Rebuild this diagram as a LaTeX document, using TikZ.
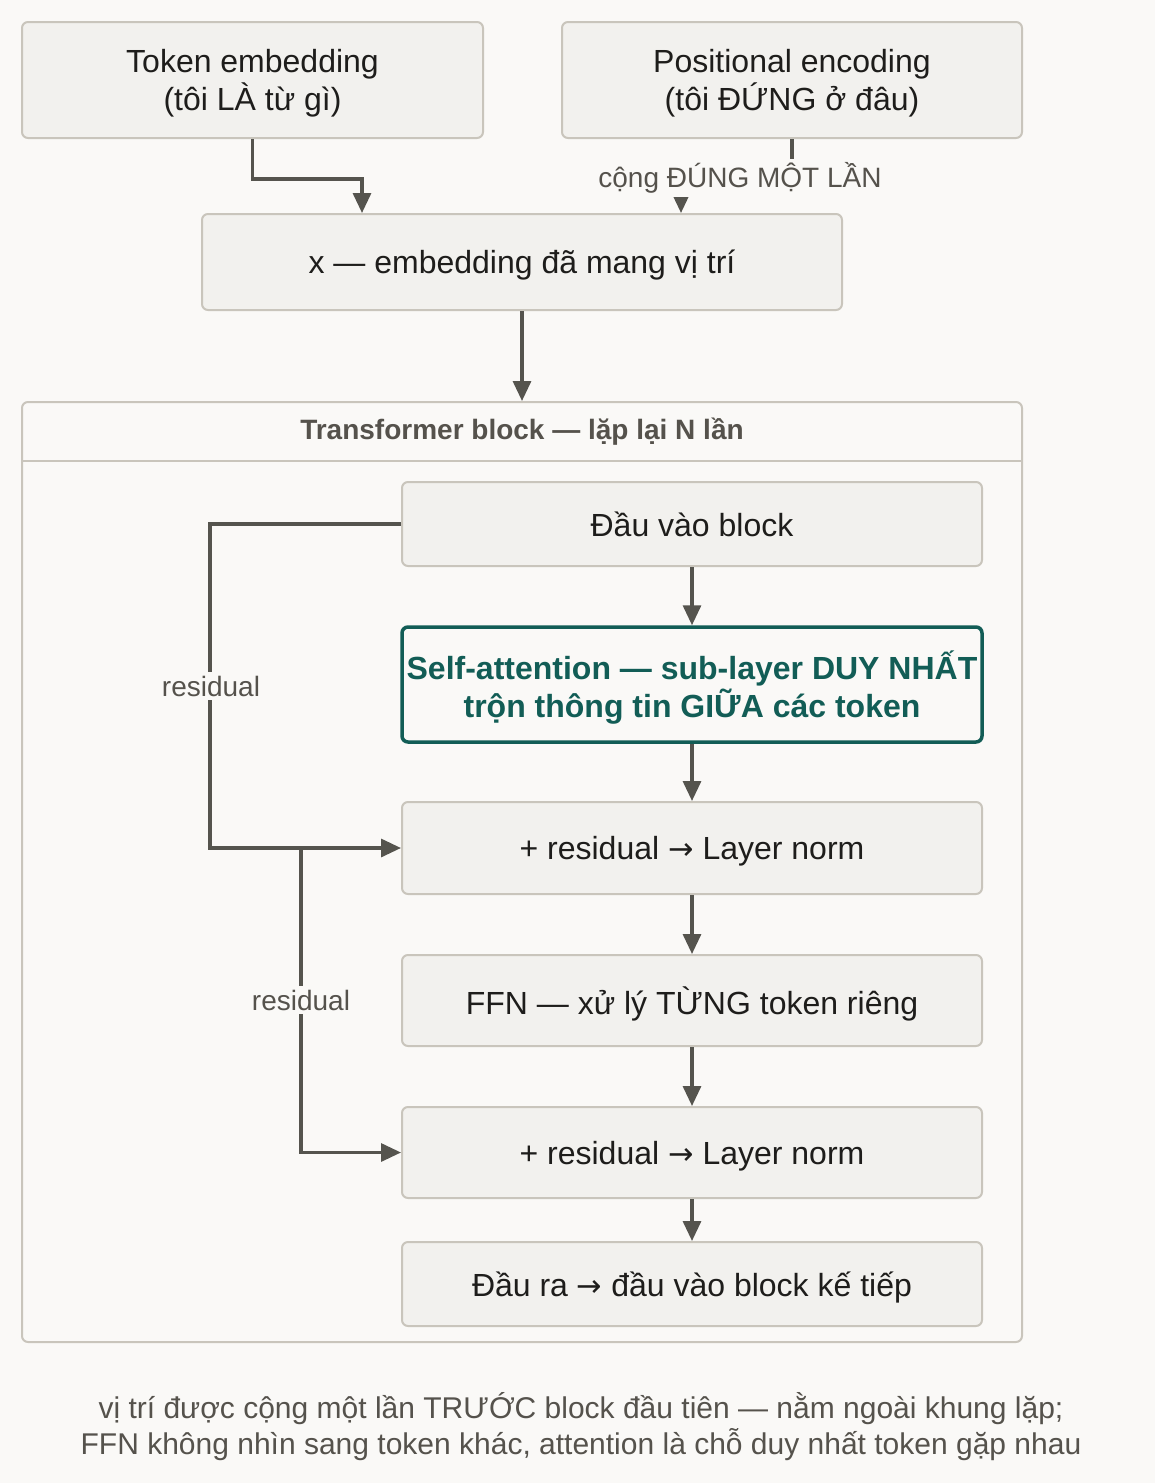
\documentclass[tikz,border=0pt]{standalone}
\usepackage{fontspec}
\setmainfont{Liberation Sans}
\newfontfamily\arrowfont{DejaVu Sans}
\usetikzlibrary{calc,arrows.meta}
\definecolor{pageBg}{RGB}{250,249,247}
\definecolor{boxFill}{RGB}{242,241,238}
\definecolor{boxLine}{RGB}{201,197,188}
\definecolor{wireGray}{RGB}{85,84,78}
\definecolor{inkDark}{RGB}{30,29,27}
\definecolor{noteGray}{RGB}{85,82,76}
\definecolor{attnTeal}{RGB}{18,93,86}
\newcommand{\ToArrow}{{\arrowfont\scalebox{0.95}{→}}}
\tikzset{
  stepbox/.style={rounded corners=3pt,draw=boxLine,fill=boxFill,line width=1pt,text depth=0pt,
                  text=inkDark,font=\fontsize{16}{19}\selectfont,align=center,inner sep=2pt},
  attnbox/.style={stepbox,draw=attnTeal,fill=pageBg,line width=1.75pt,text=attnTeal,
                  font=\bfseries\fontsize{16}{19}\selectfont},
  conn/.style={draw=wireGray,line width=1.6pt,-{Triangle[length=10pt,width=9pt]}},
  note/.style={fill=pageBg,text=noteGray,font=\fontsize{14}{18}\selectfont,inner sep=2pt}
}

\begin{document}
\begin{tikzpicture}[x=0.5pt,y=-0.5pt]
\fill[pageBg] (0,0) rectangle (1155,1483);
\useasboundingbox (0,0) rectangle (1155,1483);
% inputs
\node[stepbox,minimum width=230.5pt,minimum height=58pt] (tok) at (252.5,80) {Token embedding\\(tôi LÀ từ gì)};
\node[stepbox,minimum width=230pt,minimum height=58pt] (pos) at (792,80) {Positional encoding\\(tôi ĐỨNG ở đâu)};
\node[stepbox,minimum width=320pt,minimum height=48pt] (xemb) at (522,262) {x — embedding đã mang vị trí};
\draw[conn] (tok.south) -- ++(0,40) -| ([xshift=80.5pt]xemb.north west);
\draw[conn] (pos.south) -- ++(0,40) -| ([xshift=240pt]xemb.north west);
\node[note] (once) at (740,178) {cộng ĐÚNG MỘT LẦN};
% repeated block
\node[draw=boxLine,line width=1pt,rounded corners=3pt,minimum width=500pt,minimum height=470pt] (blk) at (522,872) {};
\draw[draw=boxLine,line width=1pt] ([yshift=-30pt]blk.north west) -- ([yshift=-30pt]blk.north east);
\node[text=noteGray,font=\bfseries\fontsize{14}{17}\selectfont] (blktitle) at (522,432) {Transformer block — lặp lại N lần};
\draw[conn] (xemb.south) -- (blk.north);
\node[stepbox,minimum width=290pt,minimum height=42pt] (inb) at (692,524) {Đầu vào block};
\node[attnbox,minimum width=290pt,minimum height=57.5pt] (attn) at (692,684.5) {Self-attention — sub-layer DUY NHẤT\\trộn thông tin GIỮA các token};
\node[stepbox,minimum width=290pt,minimum height=46pt] (ln1) at (692,848) {+ residual \ToArrow\ Layer norm};
\node[stepbox,minimum width=290pt,minimum height=45.5pt] (ffn) at (692,1000.5) {FFN — xử lý TỪNG token riêng};
\node[stepbox,minimum width=290pt,minimum height=45.5pt] (ln2) at (692,1152.5) {+ residual \ToArrow\ Layer norm};
\node[stepbox,minimum width=290pt,minimum height=42pt] (outb) at (692,1284) {Đầu ra \ToArrow\ đầu vào block kế tiếp};
\draw[conn] (inb) -- (attn);
\draw[conn] (attn) -- (ln1);
\draw[conn] (ln1) -- (ffn);
\draw[conn] (ffn) -- (ln2);
\draw[conn] (ln2) -- (outb);
% residual paths
\draw[conn] (inb.west) -- ++(-191,0) |- (ln1.west);
\coordinate (fork) at (301,848);
\draw[conn] (fork) |- (ln2.west);
\node[note] (res1) at (211,686) {residual};
\node[note] (res2) at (301,1000) {residual};
% caption
\node[text=noteGray,font=\fontsize{15}{18}\selectfont,align=center] (capt) at (581,1427)
  {vị trí được cộng một lần TRƯỚC block đầu tiên — nằm ngoài khung lặp;\\FFN không nhìn sang token khác, attention là chỗ duy nhất token gặp nhau};
\end{tikzpicture}
\end{document}
